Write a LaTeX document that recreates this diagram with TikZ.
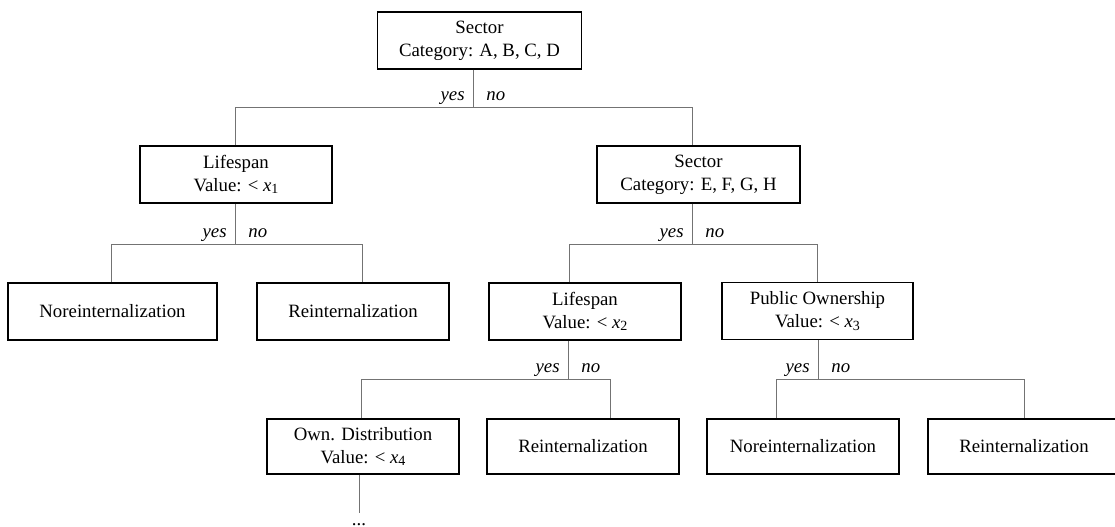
\documentclass[tikz,border=0pt]{standalone}
\usepackage{fontspec}
\setmainfont{Liberation Serif}
\usetikzlibrary{calc}

\tikzset{
	box/.style={draw=black, line width=0.65pt, minimum width=96pt, minimum height=28.5pt,
		inner sep=0pt, align=center, font=\fontsize{9.4}{11.5}\selectfont},
	link/.style={draw=black!55, line width=0.5pt},
	lbl/.style={inner sep=0pt, font=\fontsize{9.4}{11.5}\selectfont\itshape}
}

\newcommand{\xv}[1]{\textit{x}\raisebox{-0.25ex}{\fontsize{7}{8}\selectfont #1}}

\begin{document}
\begin{tikzpicture}[x=0.5pt, y=-0.5pt]
	\useasboundingbox (0,0) rectangle (1115,526);
	\clip (0,0) rectangle (1115,526);

	% level 0
	\node[box, minimum width=102pt] (root) at (479.5,40.5) {Sector\\Category: A, B, C, D};

	% level 1
	\node[box] (lifeA) at (236,174.5) {Lifespan\\Value: < \xv{1}};
	\node[box, minimum width=101.5pt] (sectorB) at (698.5,174.5) {Sector\\Category: E, F, G, H};

	% level 2
	\node[box, minimum width=104.5pt] (noreA) at (112.5,311.5) {Noreinternalization};
	\node[box] (reinA) at (353,311.5) {Reinternalization};
	\node[box] (lifeB) at (585,311.5) {Lifespan\\Value: < \xv{2}};
	\node[box, minimum width=95.5pt] (pubB) at (817.5,311) {Public Ownership\\Value: < \xv{3}};

	% level 3
	\node[box, minimum height=27.5pt] (ownB) at (363,446.5) {Own. Distribution\\Value: < \xv{4}};
	\node[box, minimum height=27.5pt] (reinB) at (583,446.5) {Reinternalization};
	\node[box, minimum height=27.5pt] (noreB) at (803,446.5) {Noreinternalization};
	\node[box, minimum height=27.5pt] (reinC) at (1024,446.5) {Reinternalization};

	% splits
	\coordinate (j0) at (473,107);  \coordinate (j0l) at (235,107);  \coordinate (j0r) at (692,107);
	\coordinate (j1) at (235,244);  \coordinate (j1l) at (111,244);  \coordinate (j1r) at (362,244);
	\coordinate (j2) at (692,244);  \coordinate (j2l) at (569,244);  \coordinate (j2r) at (817,244);
	\coordinate (j3) at (568,379);  \coordinate (j3l) at (361,379);  \coordinate (j3r) at (610,379);
	\coordinate (j4) at (818,379);  \coordinate (j4l) at (776,379);  \coordinate (j4r) at (1024,379);

	\draw[link] (j0 |- root.south) -- (j0);
	\draw[link] (j0l |- lifeA.north) -- (j0l) -- (j0r) -- (j0r |- sectorB.north);

	\draw[link] (j1 |- lifeA.south) -- (j1);
	\draw[link] (j1l |- noreA.north) -- (j1l) -- (j1r) -- (j1r |- reinA.north);

	\draw[link] (j2 |- sectorB.south) -- (j2);
	\draw[link] (j2l |- lifeB.north) -- (j2l) -- (j2r) -- (j2r |- pubB.north);

	\draw[link] (j3 |- lifeB.south) -- (j3);
	\draw[link] (j3l |- ownB.north) -- (j3l) -- (j3r) -- (j3r |- reinB.north);

	\draw[link] (j4 |- pubB.south) -- (j4);
	\draw[link] (j4l |- noreB.north) -- (j4l) -- (j4r) -- (j4r |- reinC.north);

	% yes / no
	\foreach \j in {j0,j1,j2,j3,j4} {
		\node[lbl, anchor=base east] (\j yes) at ($(\j)+(-8,-7)$) {yes};
		\node[lbl, anchor=base west] (\j no) at ($(\j)+(13,-7)$) {no};
	}

	% continues below
	\coordinate (t0) at (359,513);
	\draw[link] (t0 |- ownB.south) -- (t0);
	\node[lbl, font=\fontsize{9.4}{11.5}\selectfont, anchor=base] (more) at (359,525.5) {...};

\end{tikzpicture}
\end{document}
